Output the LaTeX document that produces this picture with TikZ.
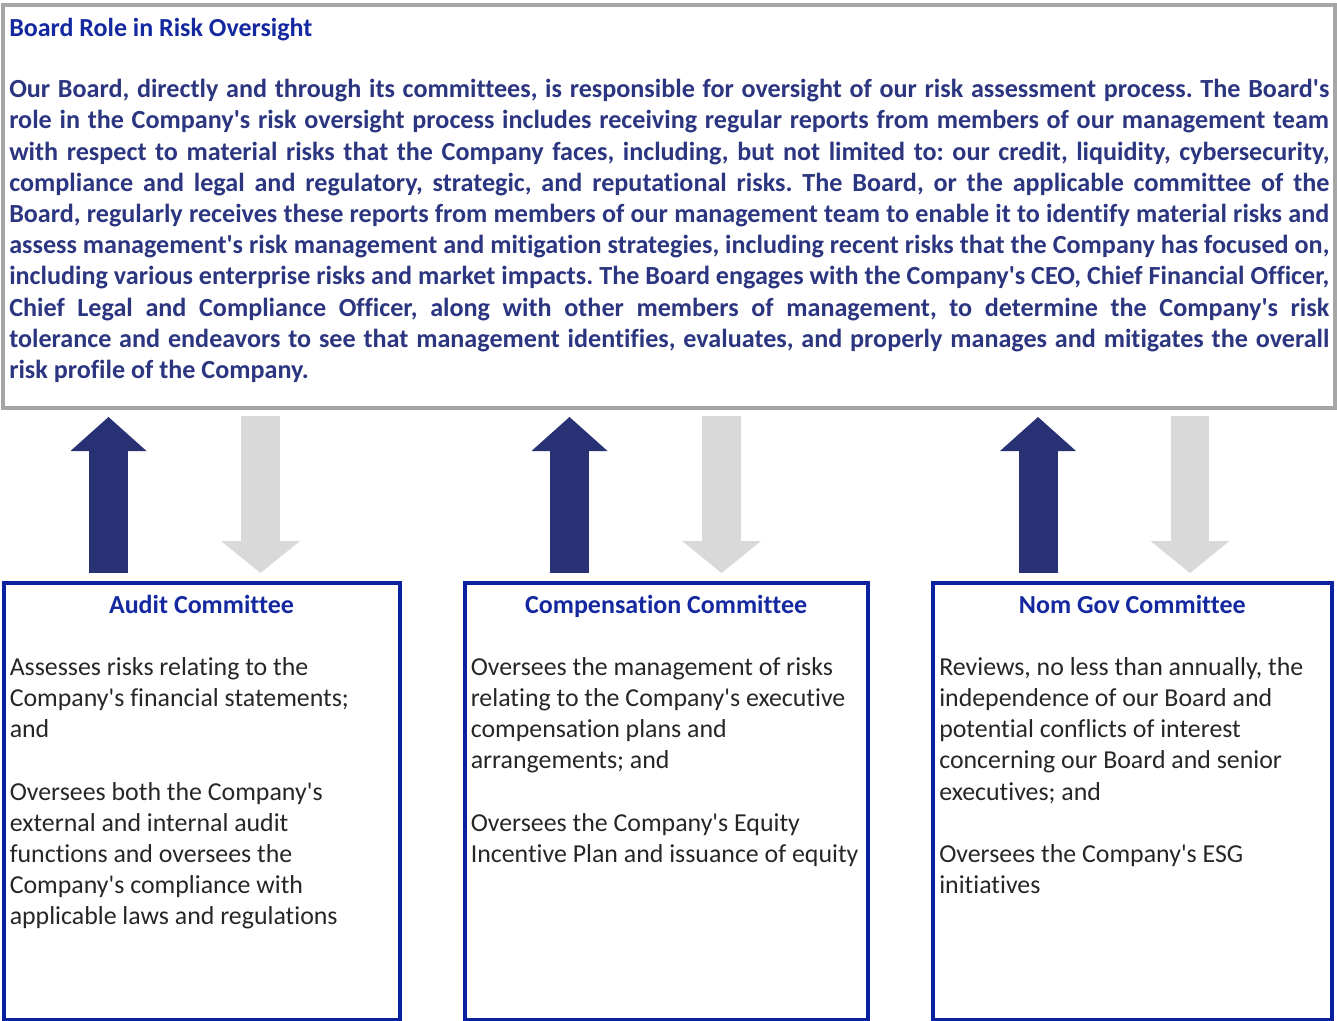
\documentclass[tikz,border=0pt]{standalone}
\usepackage{fontspec}
\setmainfont{Carlito}[Ligatures={TeXOff,NoCommon}]
\usetikzlibrary{arrows.meta,positioning}
\definecolor{boardgray}{HTML}{A6A6A6}
\definecolor{boardnavy}{HTML}{2B3580}
\definecolor{titleblue}{HTML}{1428A0}
\definecolor{cmtblue}{HTML}{0A22A0}
\definecolor{upnavy}{HTML}{283173}
\definecolor{downgray}{HTML}{D9D9D9}
\definecolor{bodygray}{HTML}{262626}
\tolerance=10000 \hbadness=10000
\frenchspacing
\tikzset{
  boardframe/.style={draw=boardgray, line width=3pt, inner sep=0pt, outer sep=0pt, anchor=north west,
    minimum width=999pt, minimum height=302.25pt},
  cmtbox/.style={draw=cmtblue, line width=3pt, inner sep=0pt, outer sep=0pt, anchor=north west,
    minimum height=328pt},
  cmttitle/.style={font=\fontsize{19.5}{23.4}\selectfont\bfseries, text=titleblue, inner sep=0pt,
    anchor=base},
  cmttext/.style={font=\fontsize{19.4}{23.4}\selectfont, text=bodygray, inner sep=0pt,
    anchor=north west, align=left},
  uparrow/.style={draw=upnavy, line width=29.25pt, shorten <=7.5pt, shorten >=6.75pt,
    -{Triangle[width=57pt,length=25.5pt,line width=0pt]}},
  downarrow/.style={draw=downgray, line width=29pt, shorten <=6pt, shorten >=7.5pt,
    -{Triangle[width=59.25pt,length=24pt,line width=0pt]}}
}
\begin{document}
\begin{tikzpicture}[x=0.75pt,y=-0.75pt]
\useasboundingbox (0,0) rectangle (1337,1020);
\clip (0,0) rectangle (1337,1020);
% board box on top
\node[boardframe] (board) at (3,5) {};
\node[anchor=west, inner sep=0pt, font=\fontsize{19.5}{23.4}\selectfont\bfseries, text=titleblue]
  (boardtitle) at (9,30) {Board Role in Risk Oversight};
\node[anchor=north west, inner sep=0pt, text width=990pt, align=justify,
  font=\fontsize{19.6}{23.4}\selectfont\bfseries, text=boardnavy] (boardtext) at (9,79)
{Our Board, directly and through its committees, is responsible for oversight of our risk assessment process. The Board's\linebreak
role in the Company's risk oversight process includes receiving regular reports from members of our management team\linebreak
with respect to material risks that the Company faces, including, but not limited to: our credit, liquidity, cybersecurity,\linebreak
compliance and legal and regulatory, strategic, and reputational risks. The Board, or the applicable committee of the\linebreak
Board, regularly receives these reports from members of our management team to enable it to identify material risks and\linebreak
assess management's risk management and mitigation strategies, including recent risks that the Company has focused on,\linebreak
including various enterprise risks and market impacts. The Board engages with the Company's CEO, Chief Financial Officer,\linebreak
Chief Legal and Compliance Officer, along with other members of management, to determine the Company's risk\linebreak
tolerance and endeavors to see that management identifies, evaluates, and properly manages and mitigates the overall\linebreak
risk profile of the Company.};

% the three committees
\node[cmtbox, minimum width=297pt] (audit) at (3.5,583) {};
\node[cmtbox, minimum width=302.5pt] (comp) at (464.5,583) {};
\node[cmtbox, minimum width=299pt] (nomgov) at (933,583) {};

\node[cmttitle] (audittitle) at ([yshift=-22.5pt]audit.north) {Audit Committee};
\node[cmttitle] (comptitle) at ([yshift=-22.5pt]comp.north) {Compensation Committee};
\node[cmttitle] (nomgovtitle) at ([yshift=-22.5pt]nomgov.north) {Nom Gov Committee};

\node[cmttext] (audittext) at ([xshift=4.5pt,yshift=-55.5pt]audit.north west)
{Assesses risks relating to the\\
Company's financial statements;\\
and\\[23.4pt]
Oversees both the Company's\\
external and internal audit\\
functions and oversees the\\
Company's compliance with\\
applicable laws and regulations};
\node[cmttext] (comptext) at ([xshift=4.5pt,yshift=-55.5pt]comp.north west)
{Oversees the management of risks\\
relating to the Company's executive\\
compensation plans and\\
arrangements; and\\[23.4pt]
Oversees the Company's Equity\\
Incentive Plan and issuance of equity};
\node[cmttext] (nomgovtext) at ([xshift=4.5pt,yshift=-55.5pt]nomgov.north west)
{Reviews, no less than annually, the\\
independence of our Board and\\
potential conflicts of interest\\
concerning our Board and senior\\
executives; and\\[23.4pt]
Oversees the Company's ESG\\
initiatives};

% reports up, oversight down
\foreach \cmt in {audit,comp,nomgov}{
  \draw[uparrow] ([xshift=78.75pt]\cmt.north west) -- ([xshift=78.75pt]\cmt.north west |- board.south);
  \draw[downarrow] ([xshift=192.75pt]\cmt.north west |- board.south) -- ([xshift=192.75pt]\cmt.north west);
}
\end{tikzpicture}
\end{document}
